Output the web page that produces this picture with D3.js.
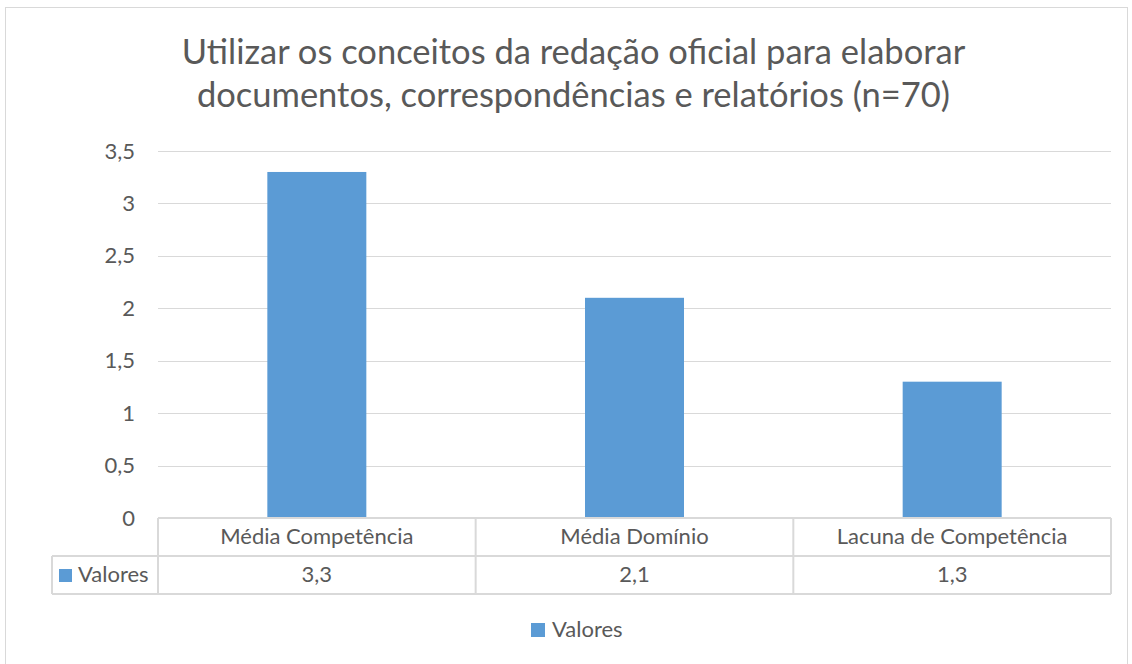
<!DOCTYPE html>
<html>
<head>
<meta charset="utf-8">
<script src="https://cdn.jsdelivr.net/npm/d3@7"></script>
<style>
  body { margin: 0; background: #fff; }
  text { font-family: Lato, "Open Sans", sans-serif; fill: #595959; }
</style>
</head>
<body>
<script>
// Données du graphique
const categories = ["Média Competência", "Média Domínio", "Lacuna de Competência"];
const valeurs = [3.3, 2.1, 1.3];
const serie = "Valores";
const ticks = [0, 0.5, 1, 1.5, 2, 2.5, 3, 3.5];
const titre = ["Utilizar os conceitos da redação oficial para elaborar",
               "documentos, correspondências e relatórios (n=70)"];

const width = 1132, height = 664;
const plotL = 158, plotR = 1111, plotT = 151, plotB = 518;
const couleur = "#5B9BD5", grille = "#D9D9D9";
const fmt = v => String(v).replace(".", ",");
const taille = "22px";

const svg = d3.select("body").append("svg")
	.attr("width", width)
	.attr("height", height);

// cadre
svg.append("rect")
	.attr("x", 5.5).attr("y", 7.5)
	.attr("width", 1122).attr("height", 660)
	.attr("fill", "none").attr("stroke", grille);

// titre
svg.append("g").selectAll("text")
	.data(titre)
	.enter()
	.append("text")
	.attr("x", 573.5)
	.attr("y", (d, i) => 64 + i * 43)
	.attr("text-anchor", "middle")
	.style("font-size", "34.5px")
	.text(d => d);

const x = d3.scaleBand().domain(categories).range([plotL, plotR]).padding(0);
const y = d3.scaleLinear().domain([0, 3.5]).range([plotB, plotT]);

// grille
svg.append("g").selectAll("line")
	.data(ticks.filter(t => t > 0))
	.enter()
	.append("line")
	.attr("x1", plotL).attr("x2", plotR)
	.attr("y1", d => Math.round(y(d)) + 0.5)
	.attr("y2", d => Math.round(y(d)) + 0.5)
	.attr("stroke", grille).attr("stroke-width", 1);

// axe Y
const axeY = svg.append("g")
	.attr("transform", `translate(${plotL - 23},0)`)
	.call(d3.axisLeft(y).tickValues(ticks).tickFormat(fmt).tickSize(0).tickPadding(0));
axeY.select(".domain").remove();
axeY.selectAll("text")
	.style("font-size", taille)
	.style("font-family", "Lato, 'Open Sans', sans-serif")
	.attr("fill", "#595959");

// barres
const barW = 99;
svg.append("g").selectAll("rect")
	.data(valeurs)
	.enter()
	.append("rect")
	.attr("x", (d, i) => x(categories[i]) + x.bandwidth() / 2 - barW / 2)
	.attr("y", d => y(d))
	.attr("width", barW)
	.attr("height", d => y(0) - y(d))
	.attr("fill", couleur);

// tableau de données
const rowMid = 556, rowBot = 594, colL = 52;
const table = svg.append("g")
	.attr("fill", "none")
	.attr("stroke", grille)
	.attr("stroke-width", 2);
table.append("line").attr("x1", plotL).attr("x2", plotR).attr("y1", plotB).attr("y2", plotB);
table.append("line").attr("x1", colL).attr("x2", plotR).attr("y1", rowMid).attr("y2", rowMid);
table.append("line").attr("x1", colL).attr("x2", plotR).attr("y1", rowBot).attr("y2", rowBot);
table.append("line").attr("x1", colL).attr("x2", colL).attr("y1", rowMid).attr("y2", rowBot);
table.selectAll(".sep")
	.data(categories.map(c => x(c)).concat([plotR]))
	.enter()
	.append("line")
	.attr("x1", d => d).attr("x2", d => d)
	.attr("y1", plotB).attr("y2", rowBot);

svg.append("g").selectAll("text")
	.data(categories)
	.enter()
	.append("text")
	.attr("x", d => x(d) + x.bandwidth() / 2)
	.attr("y", 544)
	.attr("text-anchor", "middle")
	.style("font-size", taille)
	.text(d => d);

svg.append("g").selectAll("text")
	.data(valeurs)
	.enter()
	.append("text")
	.attr("x", (d, i) => x(categories[i]) + x.bandwidth() / 2)
	.attr("y", 582)
	.attr("text-anchor", "middle")
	.style("font-size", taille)
	.text(d => fmt(d));

// clé de légende dans le tableau
svg.append("rect")
	.attr("x", 59).attr("y", 569).attr("width", 13).attr("height", 13)
	.attr("fill", couleur);
svg.append("text")
	.attr("x", 78).attr("y", 582)
	.style("font-size", taille)
	.text(serie);

// légende
svg.append("rect")
	.attr("x", 531).attr("y", 623).attr("width", 14).attr("height", 14)
	.attr("fill", couleur);
svg.append("text")
	.attr("x", 552).attr("y", 637)
	.style("font-size", taille)
	.text(serie);
</script>
</body>
</html>
